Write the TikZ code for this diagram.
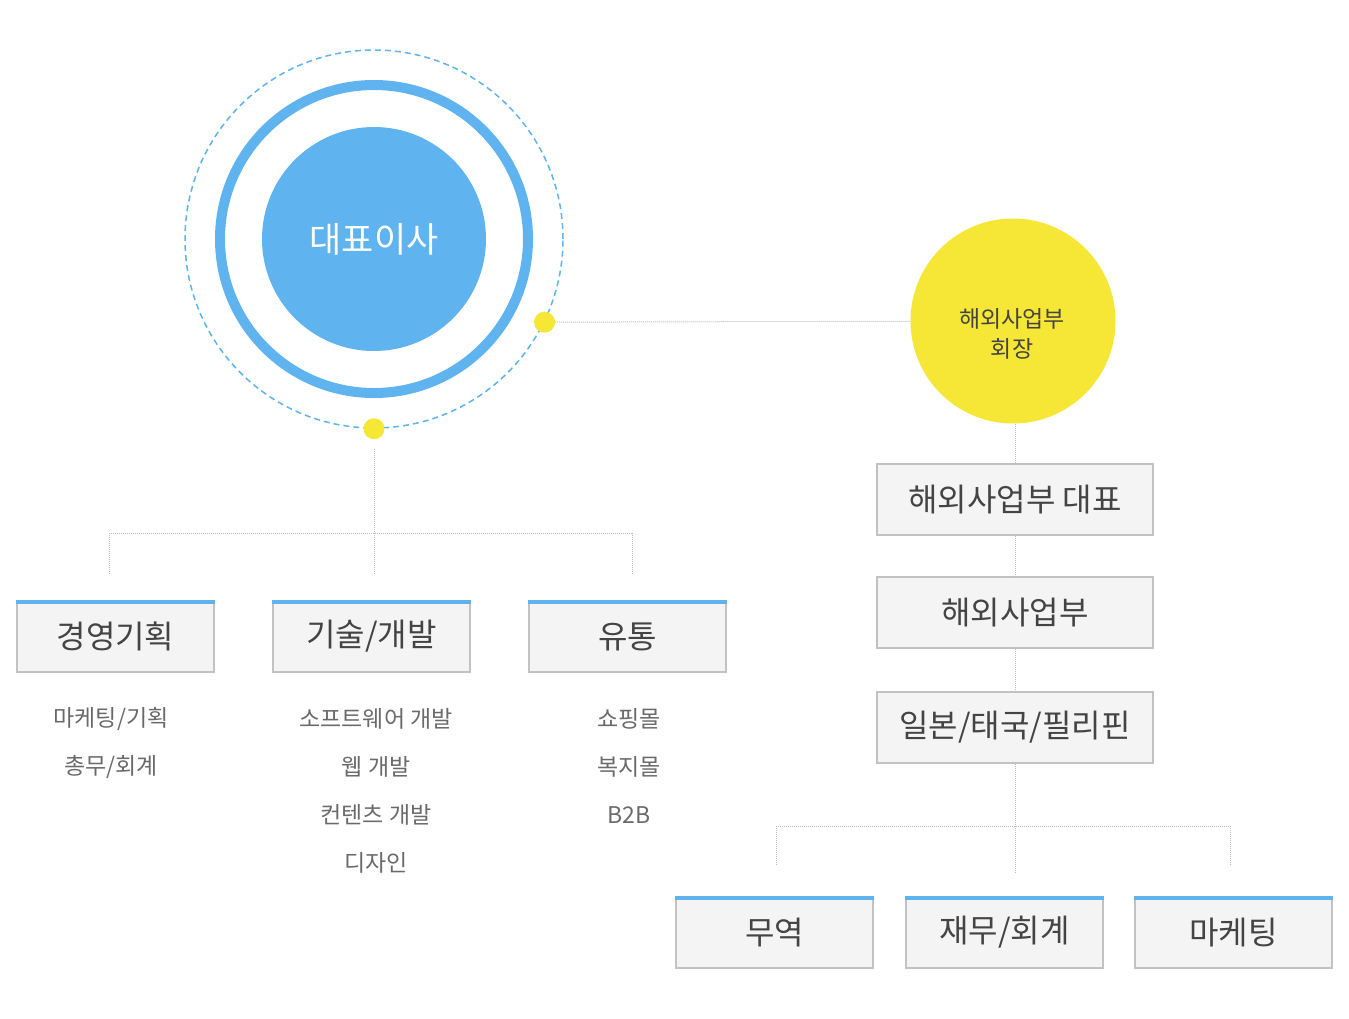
\documentclass[tikz,border=0pt]{standalone}
\usepackage{fontspec}
\setmainfont{Noto Sans CJK KR}
\usepackage{tikz}
\usetikzlibrary{positioning}
\definecolor{ceoblue}{HTML}{5FB3EE}
\definecolor{dotyellow}{HTML}{F6E737}
\definecolor{boxfill}{HTML}{F4F4F4}
\definecolor{boxline}{HTML}{C2C2C2}
\definecolor{textdark}{HTML}{444444}
\definecolor{textgray}{HTML}{6A6A6A}
\definecolor{linegray}{HTML}{BDBDBD}
\begin{document}
\begin{tikzpicture}[
		x=1pt, y=-1pt,
		node distance=256pt,
		ceo/.style={circle, fill=ceoblue, minimum size=224pt, text=white, font=\fontsize{35}{40}\selectfont},
		ring/.style={circle, draw=ceoblue, line width=10pt, minimum size=308pt},
		orbit/.style={circle, draw=ceoblue, line width=1.5pt, dash pattern=on 6pt off 4pt, minimum size=378pt},
		dot/.style={circle, fill=dotyellow, minimum size=21pt, inner sep=0pt},
		vp/.style={circle, fill=dotyellow, minimum size=205pt},
		vptext/.style={align=center, text=textdark, font=\fontsize{23}{30}\selectfont},
		dept/.style={draw=boxline, fill=boxfill, line width=1.5pt, minimum width=197pt, minimum height=71pt, text=textdark, font=\fontsize{32}{38}\selectfont},
		wide/.style={dept, minimum width=276pt},
		sub/.style={text=textgray, font=\fontsize{23}{27}\selectfont},
		link/.style={draw=linegray, line width=1pt, densely dotted},
		topbar/.style={draw=ceoblue, line width=4pt}
	]

	\useasboundingbox (0,0) rectangle (1349,1018);

	\node[orbit] (orbit) at (374,239) {};
	\node[ring] (ring) at (orbit.center) {};
	\node[ceo] (ceo) at (orbit.center) {대표이사};
	\node[dot] (d1) at (orbit.-26) {};
	\node[dot] (d2) at (orbit.south) {};

	\node[vp] (vp) at (1013,321) {};
	\node[vptext] (vpname) at (1012,334) {해외사업부\\회장};

	\node[wide] (hq) at (1015,499.5) {해외사업부 대표};
	\node[wide, below of=hq, node distance=113pt] (os) {해외사업부};
	\node[wide, below of=os, node distance=115pt] (jtp) {일본/태국/필리핀};

	\node[dept] (mgmt) at (115.5,636.5) {경영기획};
	\node[dept, right of=mgmt] (tech) {기술/개발};
	\node[dept, right of=tech] (dist) {유통};

	\node[dept] (trade) at (774.5,932.5) {무역};
	\node[dept, right of=trade, node distance=230pt] (fin) {재무/회계};
	\node[dept, right of=fin, node distance=229pt] (mkt) {마케팅};

	\foreach \b in {mgmt,tech,dist,trade,fin,mkt}
		\draw[topbar] ([yshift=-2pt]\b.north west) -- ([yshift=-2pt]\b.north east);

	\node[sub] (m1) at (111,719) {마케팅/기획};
	\node[sub, below of=m1, node distance=48pt] (m2) {총무/회계};
	\node[sub] (t1) at (376,719) {소프트웨어 개발};
	\node[sub, below of=t1, node distance=48pt] (t2) {웹 개발};
	\node[sub, below of=t2, node distance=48pt] (t3) {컨텐츠 개발};
	\node[sub, below of=t3, node distance=48pt] (t4) {디자인};
	\node[sub] (s1) at (629,719) {쇼핑몰};
	\node[sub, below of=s1, node distance=48pt] (s2) {복지몰};
	\node[sub, below of=s2, node distance=48pt] (s3) {B2B};

	\coordinate (lja) at (109,533);
	\coordinate (ljb) at (632,533);
	\coordinate (la) at (109,575);
	\coordinate (lb) at (374,575);
	\coordinate (lc) at (632,575);

	\coordinate (rja) at (776,826);
	\coordinate (rjb) at (1230,826);
	\coordinate (ra) at (776,866);
	\coordinate (rb) at (1015,872);
	\coordinate (rc) at (1230,866);

	\path[link] (d1) edge (vp)
	      (d2) edge[shorten <=10pt] (lb)
	      (lja) edge (ljb)
	      (lja) edge (la)
	      (ljb) edge (lc);
	\path[link] (vp.south -| hq.north) edge (hq)
	      (hq) edge (os)
	      (os) edge (jtp)
	      (jtp) edge (rb)
	      (rja) edge (rjb)
	      (rja) edge (ra)
	      (rjb) edge (rc);

\end{tikzpicture}
\end{document}
